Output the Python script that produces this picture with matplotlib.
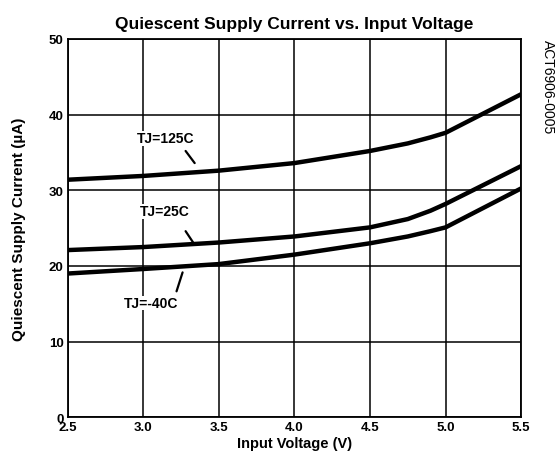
import numpy as np
import matplotlib.pyplot as plt

# ---------- DATA ----------
voltage = [2.5, 3.0, 3.5, 4.0, 4.5, 4.75, 4.9, 5.0, 5.5]
i_125c = [31.4, 31.9, 32.6, 33.6, 35.2, 36.2, 37.0, 37.6, 42.7]
i_25c = [22.1, 22.5, 23.1, 23.9, 25.1, 26.2, 27.3, 28.2, 33.2]
i_m40c = [19.0, 19.6, 20.25, 21.5, 23.0, 23.9, 24.6, 25.1, 30.25]

x_ticks = [2.5, 3.0, 3.5, 4.0, 4.5, 5.0, 5.5]
y_ticks = [0, 10, 20, 30, 40, 50]
# --------------------------

plt.rcParams["font.family"] = ["Liberation Sans", "DejaVu Sans"]

fig = plt.figure(figsize=(5.55, 4.56), dpi=100)
ax = fig.add_axes([0.122, 0.0827, 0.817, 0.8296])

for series in (i_125c, i_25c, i_m40c):
    ax.plot(voltage, series, color="black", lw=3.2, solid_capstyle="butt",
            solid_joinstyle="round", zorder=3)

ax.set_xlim(2.5, 5.5)
ax.set_ylim(0, 50)
ax.set_xticks(x_ticks)
ax.set_xticklabels([f"{v:.1f}" for v in x_ticks])
ax.set_yticks(y_ticks)
ax.tick_params(length=0, pad=3, labelsize=9.5)
for lab in ax.get_xticklabels() + ax.get_yticklabels():
    lab.set_fontweight("bold")

ax.grid(True, color="black", lw=1.1)
for sp in ax.spines.values():
    sp.set_linewidth(1.3)

ax.set_title("Quiescent Supply Current vs. Input Voltage", fontsize=12.5,
             fontweight="bold", pad=8)
ax.set_xlabel("Input Voltage (V)", fontsize=10.5, fontweight="bold", labelpad=2)
ax.set_ylabel("Quiescent Supply Current (\u00b5A)", fontsize=11,
              fontweight="bold", labelpad=16)

# curve labels with leader lines
labels = [
    ("TJ=125C", (3.15, 36.9), (3.28, 35.2), (3.34, 33.6)),
    ("TJ=25C", (3.14, 27.2), (3.28, 24.6), (3.33, 23.1)),
    ("TJ=-40C", (3.05, 15.1), (3.26, 19.15), (3.22, 16.65)),
]
for text, pos, p0, p1 in labels:
    ax.text(pos[0], pos[1], text, ha="center", va="center", fontsize=10,
            fontweight="bold", zorder=4,
            bbox=dict(facecolor="white", edgecolor="none", pad=0.3))
    ax.annotate("", xy=p1, xytext=p0,
                arrowprops=dict(arrowstyle="-", lw=1.6, color="black",
                                shrinkA=0, shrinkB=0))

fig.text(0.987, 0.912, "ACT6906-0005", rotation=-90, ha="center", va="top",
         fontsize=10)

fig.savefig("out.png", dpi=100)
